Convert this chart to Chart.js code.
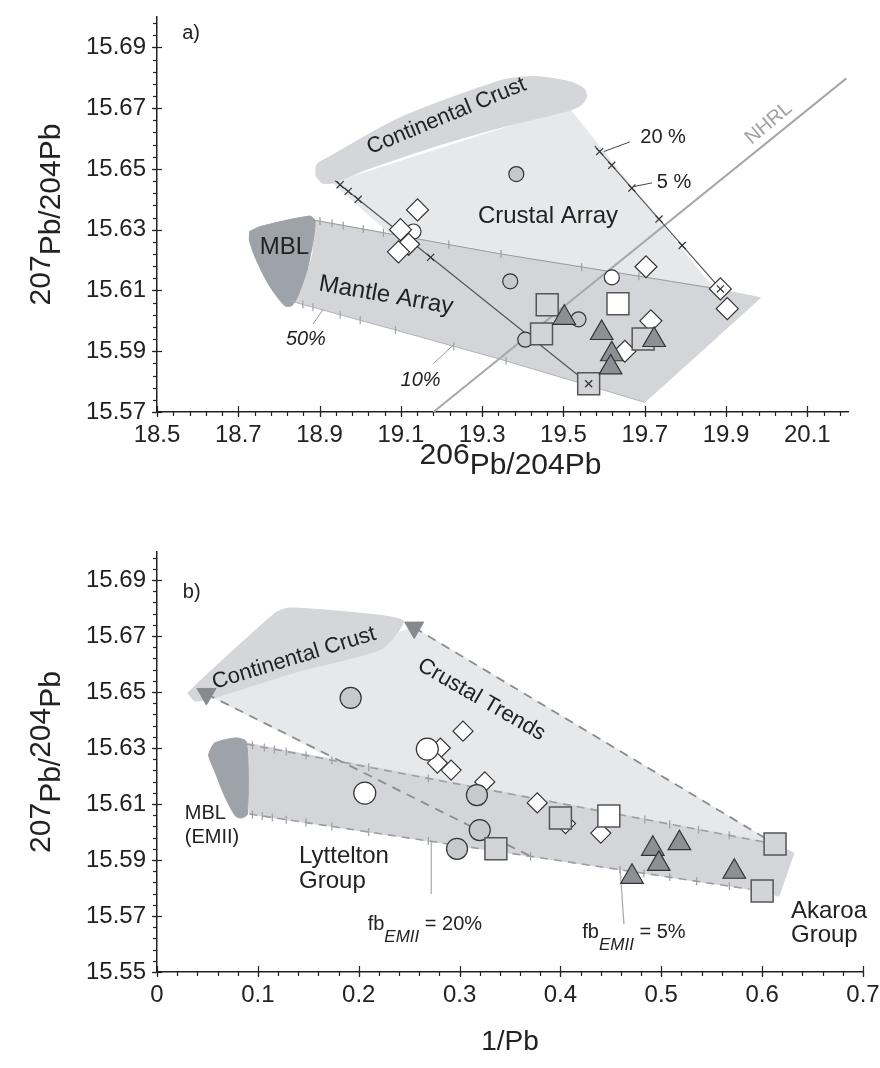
<!DOCTYPE html>
<html><head><meta charset="utf-8">
<script src="https://cdn.jsdelivr.net/npm/chart.js@4/dist/chart.umd.min.js"></script>
<style>
html,body{margin:0;padding:0;background:#fff;}
#wa{position:absolute;left:0;top:0;width:880px;height:520px;}
#wb{position:absolute;left:0;top:520px;width:880px;height:548px;}
</style></head><body>
<div id="wa"><canvas id="ca" width="880" height="520"></canvas></div>
<div id="wb"><canvas id="cb" width="880" height="548"></canvas></div>
<script>
// ================= Panel a) : 207Pb/204Pb vs 206Pb/204Pb =================
const aXTicks = [18.5,18.7,18.9,19.1,19.3,19.5,19.7,19.9,20.1];
const aYTicks = [15.57,15.59,15.61,15.63,15.65,15.67,15.69];
const aCirclesWhite = [[19.131,15.6294],[19.619,15.6143]];
const aCirclesGray  = [[19.384,15.6483],[19.369,15.613],[19.537,15.6005],[19.406,15.5938]];
const aDiamonds = [[19.141,15.6365],[19.099,15.630],[19.119,15.6252],[19.094,15.6227],[19.703,15.6178],[19.886,15.6105],[19.903,15.604],[19.651,15.590],[19.715,15.600]];
const aSquaresGray  = [[19.460,15.6053],[19.446,15.5957],[19.696,15.594],[19.562,15.5793]];
const aSquaresWhite = [[19.634,15.6056]];
const aTriangles = [[19.502,15.601],[19.594,15.596],[19.619,15.589],[19.616,15.5847],[19.723,15.5937]];
const aCrust = [[18.891,15.6477],[18.8936,15.6515],[18.9257,15.6541],[19.099,15.6669],[19.3465,15.6791],[19.428,15.6804],[19.5124,15.6788],[19.5495,15.6766],[19.557,15.674],[19.5446,15.6711],[19.5124,15.6692],[19.3465,15.6637],[19.1807,15.6573],[19.0173,15.6499],[18.933,15.6454],[18.906,15.6454]];
const aCrustalArray = [[18.933,15.6454],[19.5124,15.6702],[19.874,15.6098],[19.0693,15.6291]];
const aMantle = [[18.884,15.6332],[19.3465,15.622],[19.866,15.6108],[19.985,15.6076],[19.70,15.5732],[19.3465,15.5873],[19.0866,15.597],[18.8267,15.6066],[18.8639,15.614],[18.8837,15.622]];
const aMBL = [[18.7277,15.6294],[18.7525,15.6310],[18.8762,15.6345],[18.8886,15.6329],[18.8837,15.6262],[18.8688,15.6165],[18.8465,15.6082],[18.8317,15.605],[18.8144,15.605],[18.7772,15.6114],[18.745,15.6198],[18.7277,15.6262]];
const aMantleTop = [[18.884,15.6332],[19.3465,15.622],[19.866,15.6108]];
const aMantleBottom = [[18.8267,15.6066],[19.0866,15.597],[19.3465,15.5873],[19.70,15.5732]];
const aMantleTopTicks = [[18.901,15.6329],[18.9307,15.6321],[18.958,15.6314],[19.0074,15.6302],[19.057,15.629],[19.2178,15.6251],[19.3465,15.622],[19.5446,15.6177],[19.6856,15.6147]];
const aMantleBottomTicks = [[18.8317,15.6064],[18.8589,15.6054],[18.8837,15.6045],[18.9505,15.602],[19.0,15.6002],[19.0866,15.597],[19.2302,15.5916],[19.3589,15.5869]];
const aNHRL = [[19.18,15.57],[20.196,15.6798]];
const aMixLeft = [[18.938,15.6461],[19.562,15.5793]];
const aMixLeftTicks = [[18.9505,15.6448],[18.9704,15.6426],[18.9948,15.6400],[19.1732,15.6209]];
const aMixRight = [[19.5767,15.6576],[19.886,15.6105]];
const aMixRightTicks = [[19.589,15.6557],[19.6188,15.6512],[19.6683,15.6437],[19.735,15.6335],[19.792,15.6248]];
const aMixEnds = [[19.562,15.5793],[19.886,15.6105]];
const aLeader20 = [[19.599,15.6557],[19.6634,15.6589]];
const aLeader5  = [[19.6733,15.6442],[19.7178,15.6454]];
const aLeader50 = [[18.8837,15.5989],[18.9084,15.6037]];
const aLeader10 = [[19.1807,15.586],[19.2302,15.5922]];

// ================= Panel b) : 207Pb/204Pb vs 1/Pb =================
const bXTicks = [0,0.1,0.2,0.3,0.4,0.5,0.6,0.7];
const bYTicks = [15.55,15.57,15.59,15.61,15.63,15.65,15.67,15.69];
const bCirclesWhite = [[0.206,15.6139],[0.268,15.6296]];
const bCirclesGray  = [[0.192,15.6479],[0.3172,15.6132],[0.320,15.6007],[0.2975,15.594]];
const bDiamonds = [[0.3034,15.636],[0.281,15.630],[0.278,15.6246],[0.2916,15.6221],[0.325,15.6179],[0.377,15.6104],[0.405,15.603],[0.440,15.5996]];
const bSquaresGray  = [[0.336,15.594],[0.400,15.605],[0.6128,15.5957],[0.600,15.5789]];
const bSquaresWhite = [[0.448,15.6057]];
const bTriangles = [[0.4916,15.594],[0.518,15.596],[0.4975,15.5886],[0.471,15.584],[0.5724,15.5858]];
const bCrustEnds = [[0.049,15.6493],[0.255,15.673]];
const bCrust = [[0.0305,15.6496],[0.0424,15.6539],[0.1172,15.6782],[0.131,15.680],[0.200,15.6782],[0.2443,15.6754],[0.2227,15.6654],[0.1409,15.6575],[0.0522,15.6475],[0.0374,15.6468]];
const bCrustalTrends = [[0.049,15.6493],[0.255,15.673],[0.6128,15.5957],[0.18,15.6252]];
const bMantle = [[0.0887,15.6318],[0.6128,15.5957],[0.6315,15.5925],[0.6167,15.5771],[0.587,15.5796],[0.0916,15.6064]];
const bMBL = [[0.0522,15.6289],[0.0571,15.6318],[0.0788,15.6336],[0.0887,15.6321],[0.0897,15.6064],[0.0837,15.605],[0.0778,15.6057],[0.067,15.6129],[0.0571,15.6218],[0.0512,15.6271]];
const bTrendUpper = [[0.255,15.673],[0.6128,15.5957]];
const bTrendLower = [[0.049,15.6493],[0.37,15.5914]];
const bMantleTop = [[0.0887,15.6314],[0.6128,15.5957]];
const bMantleBottom = [[0.0916,15.6064],[0.587,15.5796]];
const bMantleTopTicks = [[0.0946,15.631],[0.1064,15.6302],[0.1163,15.6295],[0.1281,15.6287],[0.1478,15.6274],[0.1734,15.6256],[0.2099,15.6231],[0.269,15.6191],[0.4837,15.6045],[0.5084,15.6028],[0.5369,15.6009],[0.5675,15.5988]];
const bMantleBottomTicks = [[0.0946,15.6062],[0.1044,15.6057],[0.1143,15.6052],[0.1281,15.6044],[0.1478,15.6034],[0.1734,15.602],[0.2099,15.600],[0.269,15.5968],[0.3704,15.5913],[0.4591,15.5865],[0.4828,15.5852],[0.5084,15.5839],[0.535,15.5824],[0.5675,15.5807]];
const bLeader20 = [[0.2719,15.5968],[0.2719,15.5779]];
const bLeader5  = [[0.4591,15.5871],[0.463,15.5671]];

// ================= helpers =================
const F = '"Liberation Sans", Arial, Helvetica, sans-serif';
const P = a => a.map(p => ({x: p[0], y: p[1]}));
const CL = a => P(a.concat([a[0]]));
function fillDS(arr, color, order, tension) {
  return {data: CL(arr), showLine: true, fill: 'shape', backgroundColor: color, borderColor: color,
          borderWidth: 1, pointRadius: 0, tension: tension || 0, order};
}
function lineDS(arr, color, width, order, dash) {
  return {data: P(arr), showLine: true, fill: false, borderColor: color, borderWidth: width,
          borderDash: dash || [], pointRadius: 0, order};
}
function markDS(arr, style, r, bg, bd, bw, order, rot) {
  return {data: P(arr), showLine: false, pointStyle: style, pointRadius: r, pointHoverRadius: r,
          pointBackgroundColor: bg, pointBorderColor: bd, pointBorderWidth: bw, pointRotation: rot || 0, order};
}
function mkScales(c) {
  return {
    x: {type: 'linear', position: 'bottom', min: c.xmin, max: c.xmax,
      afterBuildTicks: s => { s.ticks = c.xTicks.map(v => ({value: v})); },
      afterFit: s => { s.height = c.xh; s.paddingLeft = 0; s.paddingRight = 0; },
      ticks: {autoSkip: false, maxRotation: 0, minRotation: 0, padding: 9, color: '#222',
              font: {family: F, size: 24}, callback: c.xFmt},
      grid: {display: false, drawTicks: false},
      border: {display: true, color: '#222', width: 1.5}},
    y: {type: 'linear', min: c.ymin, max: c.ymax,
      afterBuildTicks: s => { s.ticks = c.yTicks.map(v => ({value: v})); },
      afterFit: s => { s.width = c.yw; s.paddingTop = 0; s.paddingBottom = 0; },
      ticks: {autoSkip: false, padding: 11, color: '#222', font: {family: F, size: 24},
              callback: v => Number(v).toFixed(2)},
      grid: {display: false, drawTicks: false},
      border: {display: true, color: '#222', width: 1.5}}
  };
}
function segFont(s) { return (s.it ? 'italic ' : '') + s.size + 'px ' + F; }
function drawSegs(ctx, segs, align) {
  let w = 0;
  segs.forEach(s => { ctx.font = segFont(s); s._w = ctx.measureText(s.t).width; w += s._w; });
  let cx = align === 'center' ? -w / 2 : 0;
  segs.forEach(s => { ctx.font = segFont(s); ctx.fillText(s.t, cx, s.dy || 0); cx += s._w; });
}
function decoPlugin(cfg) {
  return {
    id: 'deco',
    afterDatasetsDraw(chart) {
      const {ctx, scales: {x, y}} = chart;
      cfg.notes.forEach(n => {
        ctx.save();
        ctx.translate(x.getPixelForValue(n.x), y.getPixelForValue(n.y));
        ctx.rotate((n.rot || 0) * Math.PI / 180);
        ctx.fillStyle = n.color || '#222';
        ctx.textBaseline = n.base || 'alphabetic';
        ctx.textAlign = 'left';
        drawSegs(ctx, n.segs, n.align);
        ctx.restore();
      });
    },
    afterDraw(chart) {
      const {ctx, chartArea: a, scales: {x, y}} = chart;
      ctx.save();
      ctx.strokeStyle = '#222'; ctx.lineWidth = 1.2;
      const ln = (x1, y1, x2, y2) => { ctx.beginPath(); ctx.moveTo(x1, y1); ctx.lineTo(x2, y2); ctx.stroke(); };
      const nx = Math.floor((x.max - x.min) / cfg.xMinor + 1e-6);
      for (let i = 0; i <= nx; i++) { const px = Math.round(x.getPixelForValue(x.min + i * cfg.xMinor)) + 0.5; ln(px, a.bottom, px, a.bottom + 4); }
      cfg.xTicks.forEach(v => { const px = Math.round(x.getPixelForValue(v)) + 0.5; ln(px, a.bottom - 6, px, a.bottom + 5); });
      const ny = Math.floor((y.max - y.min) / cfg.yMinor + 1e-6);
      for (let i = 0; i <= ny; i++) { const py = Math.round(y.getPixelForValue(y.min + i * cfg.yMinor)) + 0.5; ln(a.left - 4, py, a.left, py); }
      cfg.yTicks.forEach(v => { const py = Math.round(y.getPixelForValue(v)) + 0.5; ln(a.left - 5, py, a.left + 5, py); });
      // axis titles
      ctx.fillStyle = '#222'; ctx.textBaseline = 'alphabetic'; ctx.textAlign = 'left';
      ctx.save();
      ctx.translate((a.left + a.right) / 2 + cfg.xTitleDx, a.bottom + cfg.xTitleDy);
      drawSegs(ctx, cfg.xTitle, 'center');
      ctx.restore();
      ctx.save();
      ctx.translate(cfg.yTitleX, (a.top + a.bottom) / 2);
      ctx.rotate(-Math.PI / 2);
      drawSegs(ctx, cfg.yTitle, 'center');
      ctx.restore();
      ctx.restore();
    }
  };
}
const baseOpts = (pad, sc) => ({
  responsive: false, animation: false, events: [],
  layout: {padding: pad},
  plugins: {legend: {display: false}, tooltip: {enabled: false}},
  scales: sc
});
const S = (t, size, o) => Object.assign({t, size}, o || {});

// ================= Chart a =================
const notesA = [
  {x: 18.562, y: 15.6926, segs: [S('a)', 20)]},
  {x: 19.0248, y: 15.6548, rot: -22.5, segs: [S('Continental Crust', 22)]},
  {x: 19.2896, y: 15.6323, segs: [S('Crustal Array', 24)]},
  {x: 18.7525, y: 15.622, segs: [S('MBL', 24)]},
  {x: 18.896, y: 15.6101, rot: 10, segs: [S('Mantle Array', 24)]},
  {x: 20.005, y: 15.665, rot: -40, align: 'center', base: 'middle', color: '#a3a3a3', segs: [S('NHRL', 20)]},
  {x: 19.745, y: 15.6602, align: 'center', base: 'middle', segs: [S('20 %', 20)]},
  {x: 19.772, y: 15.6454, align: 'center', base: 'middle', segs: [S('5 %', 20)]},
  {x: 18.8663, y: 15.5938, align: 'center', base: 'middle', segs: [S('50%', 20, {it: true})]},
  {x: 19.1485, y: 15.5803, align: 'center', base: 'middle', segs: [S('10%', 20, {it: true})]}
];
new Chart(document.getElementById('ca'), {
  type: 'scatter',
  data: {datasets: [
    fillDS(aCrustalArray, '#e7e8ea', 100),
    fillDS(aMantle, '#d4d5d9', 96),
    fillDS(aCrust, '#d5d6d9', 94, 0.25),
    fillDS(aMBL, '#9ea2a9', 92, 0.25),
    lineDS(aMantleTop, '#9a9da2', 1.2, 90),
    lineDS(aMantleBottom, '#b5b7bb', 1, 90),
    markDS(aMantleTopTicks, 'line', 4, '#9a9da2', '#9a9da2', 1.2, 89, 90),
    markDS(aMantleBottomTicks, 'line', 4, '#a0a3a8', '#a0a3a8', 1.2, 89, 90),
    lineDS(aNHRL, '#a8a8a8', 2, 88),
    lineDS(aMixLeft, '#555', 1.2, 86),
    lineDS(aMixRight, '#555', 1.2, 86),
    markDS(aMixLeftTicks, 'crossRot', 5, '#333', '#333', 1.2, 85),
    markDS(aMixRightTicks, 'crossRot', 5, '#333', '#333', 1.2, 85),
    lineDS(aLeader20, '#444', 1, 84),
    lineDS(aLeader5, '#444', 1, 84),
    lineDS(aLeader50, '#9a9a9a', 1, 84),
    lineDS(aLeader10, '#9a9a9a', 1, 84),
    markDS(aCirclesGray, 'circle', 7.5, '#c8c9cc', '#333', 1.2, 40),
    markDS(aCirclesWhite, 'circle', 7.5, '#ffffff', '#333', 1.2, 40),
    markDS(aDiamonds, 'rectRot', 11, '#ffffff', '#333', 1.2, 30),
    markDS(aSquaresGray, 'rect', 15.5, '#d3d4d7', '#555', 1.5, 20),
    markDS(aSquaresWhite, 'rect', 15.5, '#ffffff', '#555', 1.5, 20),
    markDS(aTriangles, 'triangle', 13, '#8c8f94', '#333', 1.2, 10),
    markDS(aMixEnds, 'crossRot', 5, '#333', '#333', 1.2, 5)
  ]},
  options: baseOpts({top: 7, right: 32, left: 0, bottom: 0},
    mkScales({xmin: 18.5, xmax: 20.2, ymin: 15.57, ymax: 15.70, xTicks: aXTicks, yTicks: aYTicks,
              xh: 108, yw: 157, xFmt: v => Number(v).toFixed(1)})),
  plugins: [decoPlugin({notes: notesA, xTicks: aXTicks, yTicks: aYTicks, xMinor: 0.04, yMinor: 0.004,
    xTitle: [S('206', 30, {dy: -10}), S('Pb/204Pb', 30)], xTitleDx: 8, xTitleDy: 62,
    yTitle: [S('207', 30, {dy: -10}), S('Pb/204Pb', 30)], yTitleX: 60})]
});

// ================= Chart b =================
const notesB = [
  {x: 0.0256, y: 15.6836, segs: [S('b)', 20)]},
  {x: 0.0571, y: 15.6511, rot: -17, segs: [S('Continental Crust', 22)]},
  {x: 0.2571, y: 15.6582, rot: 30, segs: [S('Crustal Trends', 22)]},
  {x: 0.0276, y: 15.6046, segs: [S('MBL', 20)]},
  {x: 0.0276, y: 15.5961, segs: [S('(EMII)', 20)]},
  {x: 0.1409, y: 15.5889, segs: [S('Lyttelton', 24)]},
  {x: 0.1409, y: 15.580, segs: [S('Group', 24)]},
  {x: 0.6286, y: 15.5693, segs: [S('Akaroa', 24)]},
  {x: 0.6286, y: 15.5607, segs: [S('Group', 24)]},
  {x: 0.2089, y: 15.565, segs: [S('fb', 20), S('EMII', 17, {it: true, dy: 12}), S(' = 20%', 20)]},
  {x: 0.4217, y: 15.5621, segs: [S('fb', 20), S('EMII', 17, {it: true, dy: 12}), S(' = 5%', 20)]}
];
new Chart(document.getElementById('cb'), {
  type: 'scatter',
  data: {datasets: [
    fillDS(bCrustalTrends, '#e7e8ea', 100),
    fillDS(bMantle, '#d4d5d9', 96),
    fillDS(bCrust, '#d5d6d9', 94, 0.2),
    fillDS(bMBL, '#9ea2a9', 92, 0.25),
    lineDS(bMantleTop, '#9c9ea3', 1.6, 90, [8, 6]),
    lineDS(bMantleBottom, '#9c9ea3', 1.6, 90, [8, 6]),
    markDS(bMantleTopTicks, 'line', 4, '#9c9ea3', '#9c9ea3', 1.2, 89, 90),
    markDS(bMantleBottomTicks, 'line', 4, '#9c9ea3', '#9c9ea3', 1.2, 89, 90),
    lineDS(bTrendUpper, '#8a8c90', 1.8, 87, [9, 7]),
    lineDS(bTrendLower, '#8a8c90', 1.8, 87, [9, 7]),
    lineDS(bLeader20, '#a8a8a8', 1.2, 86),
    lineDS(bLeader5, '#a8a8a8', 1.2, 86),
    markDS(bCrustEnds, 'triangle', 11, '#86898e', '#86898e', 1, 85, 180),
    markDS(bDiamonds, 'rectRot', 10, '#ffffff', '#333', 1.2, 45),
    markDS(bCirclesGray, 'circle', 10.5, '#c8c9cc', '#333', 1.2, 40),
    markDS(bCirclesWhite, 'circle', 11, '#ffffff', '#333', 1.2, 40),
    markDS(bSquaresGray, 'rect', 15.5, '#d3d4d7', '#555', 1.5, 20),
    markDS(bSquaresWhite, 'rect', 15.5, '#ffffff', '#555', 1.5, 20),
    markDS(bTriangles, 'triangle', 13, '#8c8f94', '#333', 1.2, 10)
  ]},
  options: baseOpts({top: 32, right: 14, left: 0, bottom: 0},
    mkScales({xmin: 0, xmax: 0.7, ymin: 15.55, ymax: 15.70, xTicks: bXTicks, yTicks: bYTicks,
              xh: 96, yw: 157, xFmt: v => (v === 0 ? '0' : Number(v).toFixed(1))})),
  plugins: [decoPlugin({notes: notesB, xTicks: bXTicks, yTicks: bYTicks, xMinor: 0.02, yMinor: 0.004,
    xTitle: [S('1/Pb', 28)], xTitleDx: 0, xTitleDy: 78,
    yTitle: [S('207', 30, {dy: -10}), S('Pb/', 30), S('204', 30, {dy: -10}), S('Pb', 30)], yTitleX: 60})]
});
</script>
</body></html>
